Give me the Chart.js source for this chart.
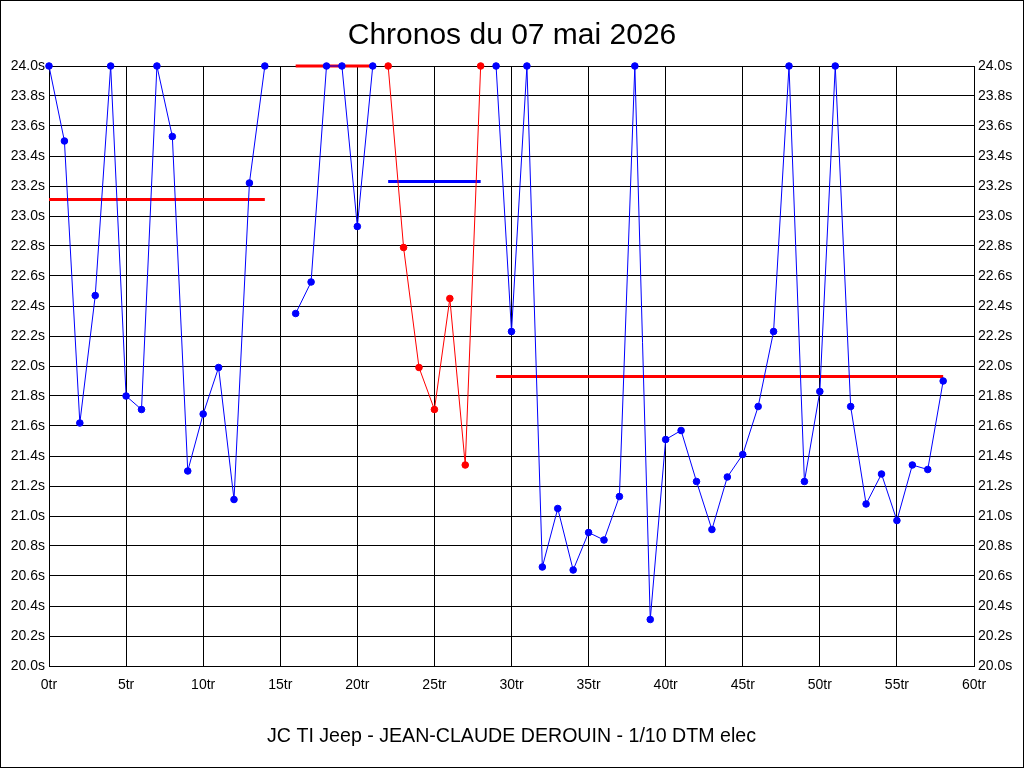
<!DOCTYPE html>
<html>
<head>
<meta charset="utf-8">
<title>Chronos du 07 mai 2026</title>
<script src="https://cdn.jsdelivr.net/npm/chart.js@4.4.1/dist/chart.umd.min.js"></script>
<style>
  html, body { margin: 0; padding: 0; background: #fff; }
</style>
</head>
<body>
<canvas id="graphiqueChronos" width="1024" height="768"></canvas>
<script>
// tours et chronos, par relais (le tour 15 manque)
var toursA = [0, 1, 2, 3, 4, 5, 6, 7, 8, 9, 10, 11, 12, 13, 14];
var chronosA = [24.0, 23.5, 21.62, 22.47, 24.0, 21.80, 21.71, 24.0, 23.53, 21.30, 21.68, 21.99, 21.11, 23.22, 24.0];

var toursB = [16, 17, 18, 19, 20, 21];
var chronosB = [22.35, 22.56, 24.0, 24.0, 22.93, 24.0];

var toursC = [22, 23, 24, 25, 26, 27, 28];
var chronosC = [24.0, 22.79, 21.99, 21.71, 22.45, 21.34, 24.0];

var toursD = [29, 30, 31, 32, 33, 34, 35, 36, 37, 38, 39, 40, 41, 42, 43,
              44, 45, 46, 47, 48, 49, 50, 51, 52, 53, 54, 55, 56, 57, 58];
var chronosD = [24.0, 22.23, 24.0, 20.66, 21.05, 20.64, 20.89, 20.84, 21.13, 24.0, 20.31, 21.51, 21.57, 21.23, 20.91,
                21.26, 21.41, 21.73, 22.23, 24.0, 21.23, 21.83, 24.0, 21.73, 21.08, 21.28, 20.97, 21.34, 21.31, 21.90];

// moyennes de chaque relais : [premier tour, dernier tour], valeur
var moyenneA = [[0, 14], 23.11];
var moyenneB = [[16, 21], 24.0];
var moyenneC = [[22, 28], 23.23];
var moyenneD = [[29, 58], 21.93];

var ticksY = { min: 20.0, max: 24.0, pas: 0.2 };
var ticksX = { min: 0, max: 60, pas: 5 };

var titre = 'Chronos du 07 mai 2026';
var pilote = 'JC TI Jeep - JEAN-CLAUDE DEROUIN - 1/10 DTM elec';

function points(tours, chronos) {
    return tours.map(function(t, i) { return { x: t, y: chronos[i] }; });
}

function serie(tours, chronos, couleur) {
    return {
        data: points(tours, chronos),
        borderColor: couleur,
        backgroundColor: couleur,
        borderWidth: 1,
        pointRadius: 3.3,
        pointBorderWidth: 1,
        pointHoverRadius: 3.3,
        tension: 0,
        clip: false
    };
}

function moyenne(m, couleur) {
    return {
        data: [{ x: m[0][0], y: m[1] }, { x: m[0][1], y: m[1] }],
        borderColor: couleur,
        borderWidth: 3,
        pointRadius: 0,
        clip: false
    };
}

// fond blanc + cadre noir autour de l'image
var cadre = {
    id: 'cadre',
    beforeDraw: function(chart) {
        var c = chart.ctx;
        c.save();
        c.fillStyle = '#fff';
        c.fillRect(0, 0, chart.width, chart.height);
        c.restore();
    },
    afterDraw: function(chart) {
        var c = chart.ctx;
        c.save();
        c.strokeStyle = '#000';
        c.lineWidth = 1;
        c.strokeRect(0.5, 0.5, chart.width - 1, chart.height - 1);
        c.restore();
    }
};

var police = "'Liberation Sans', Arial, sans-serif";
var formatY = function(v) { return v.toFixed(1) + 's'; };

var ctx = document.getElementById('graphiqueChronos').getContext('2d');
var graphique = new Chart(ctx, {
    type: 'line',
    data: {
        datasets: [
            serie(toursA, chronosA, '#0000FF'),
            serie(toursB, chronosB, '#0000FF'),
            serie(toursC, chronosC, '#FF0000'),
            serie(toursD, chronosD, '#0000FF'),
            moyenne(moyenneA, '#FF0000'),
            moyenne(moyenneB, '#FF0000'),
            moyenne(moyenneC, '#0000FF'),
            moyenne(moyenneD, '#FF0000')
        ]
    },
    options: {
        responsive: false,
        animation: false,
        events: [],
        layout: { padding: 0 },
        plugins: {
            legend: { display: false },
            tooltip: { enabled: false },
            title: {
                display: true,
                text: titre,
                color: '#000',
                font: { family: police, size: 30, weight: 'normal' },
                padding: { top: 18, bottom: 12 }
            }
        },
        scales: {
            x: {
                type: 'linear',
                min: ticksX.min,
                max: ticksX.max,
                afterFit: function(s) { s.height = 102; },
                grid: { color: '#000', drawTicks: false },
                border: { color: '#000' },
                ticks: {
                    stepSize: ticksX.pas,
                    color: '#000',
                    padding: 11,
                    maxRotation: 0,
                    font: { family: police, size: 14 },
                    callback: function(v) { return v + 'tr'; }
                },
                title: {
                    display: true,
                    text: pilote,
                    color: '#000',
                    font: { family: police, size: 19.6 },
                    padding: { top: 0, bottom: 20 }
                }
            },
            y: {
                position: 'left',
                min: ticksY.min,
                max: ticksY.max,
                afterFit: function(s) { s.width = 49; },
                grid: { color: '#000', drawTicks: false },
                border: { color: '#000' },
                ticks: {
                    stepSize: ticksY.pas,
                    color: '#000',
                    padding: 4,
                    font: { family: police, size: 14 },
                    callback: formatY
                }
            },
            y2: {
                position: 'right',
                min: ticksY.min,
                max: ticksY.max,
                afterFit: function(s) { s.width = 50; },
                grid: { drawOnChartArea: false, drawTicks: false },
                border: { color: '#000' },
                ticks: {
                    stepSize: ticksY.pas,
                    color: '#000',
                    padding: 4,
                    font: { family: police, size: 14 },
                    callback: formatY
                }
            }
        }
    },
    plugins: [cadre]
});
</script>
</body>
</html>
